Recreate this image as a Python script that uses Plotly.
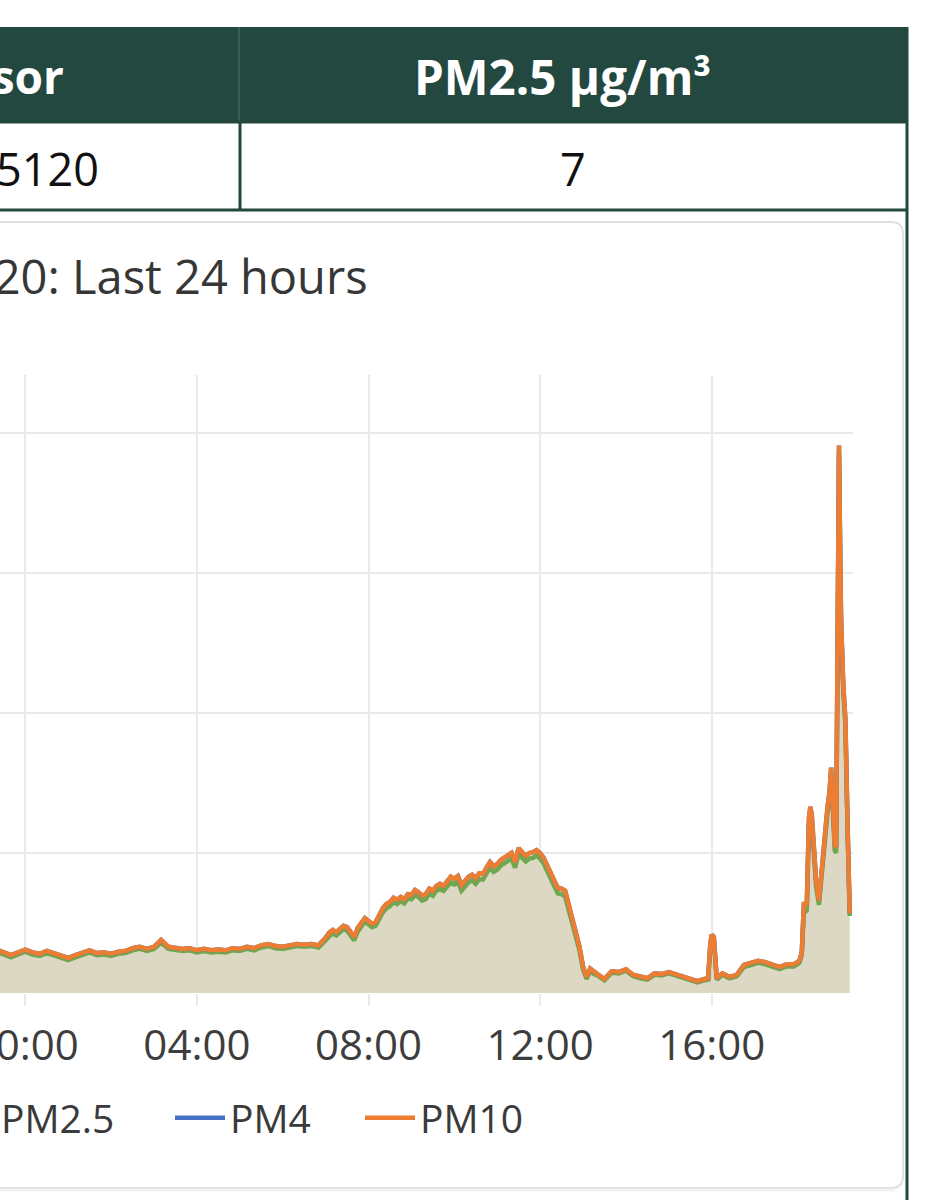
import pandas as pd
import plotly.graph_objects as go

# ---------------- data ----------------
# minutes relative to 00:00 of the chart's second day
minutes = [
    -40, -30, -20, -10, 0, 10, 20, 30, 40, 50, 60, 70, 80, 90, 100, 110, 120, 130, 140, 150,
    160, 170, 180, 190, 200, 210, 220, 230, 240, 250, 260, 270, 280, 290, 300, 310, 320, 330,
    340, 350, 360, 370, 380, 390, 400,
    410, 415, 420, 425, 430, 435, 440, 445, 450, 455, 460, 465, 470, 475, 480, 485, 490, 495,
    500, 505, 510, 515, 520, 525, 530, 535, 540, 545, 550, 555, 560, 565, 570, 575, 580, 585,
    590, 595, 600, 605, 610, 615, 620, 625, 630, 635, 640, 645, 650, 655, 660, 665, 670, 675,
    680, 685, 690, 695, 700, 705, 710, 715, 720, 725, 730, 735, 740, 745, 750, 755, 760, 765,
    770, 775, 780, 785, 790, 795, 800,
    810, 820, 830, 840, 850, 860, 870, 880, 890, 900, 910, 920, 930, 940, 950, 955, 958, 960,
    963, 965, 967, 975, 985, 995, 1005, 1015, 1025, 1035, 1045, 1055, 1065, 1075, 1080, 1083,
    1086, 1089, 1091, 1093, 1096, 1098, 1100, 1103, 1106, 1110, 1113, 1116, 1119, 1122, 1125,
    1127, 1129, 1132, 1134, 1136, 1138, 1140, 1141, 1144, 1147, 1150, 1153,
]

pm10 = [
    3.1, 2.9, 2.7, 2.9, 3.1, 2.9, 2.8, 3.0, 2.85, 2.65, 2.5, 2.7, 2.85, 3.05, 2.85, 2.9, 2.8, 2.95, 3.0, 3.2,
    3.3, 3.15, 3.3, 3.8, 3.3, 3.2, 3.15, 3.2, 3.05, 3.15, 3.05, 3.1, 3.05, 3.2, 3.15, 3.3, 3.2, 3.4,
    3.5, 3.35, 3.3, 3.4, 3.5, 3.45, 3.5,
    3.4, 3.65, 3.95, 4.3, 4.5, 4.35, 4.55, 4.8, 4.7, 4.3, 4.0, 4.65, 5.05, 5.35, 5.15, 4.95, 5.05, 5.65,
    6.05, 6.35, 6.5, 6.8, 6.65, 6.85, 6.7, 7.05, 7.0, 7.35, 7.2, 6.95, 7.05, 7.45, 7.3, 7.65, 7.8, 7.65,
    8.0, 8.3, 8.15, 8.35, 7.7, 8.05, 8.3, 8.45, 8.2, 8.55, 8.5, 8.95, 9.35, 9.05, 9.2, 9.5, 9.65, 9.85,
    10.0, 9.35, 10.35, 10.05, 9.8, 10.0, 10.05, 10.2, 10.0, 9.65, 9.05, 8.5, 8.0, 7.5, 7.45, 7.3, 6.3, 5.2,
    4.3, 3.3, 1.9, 1.15, 1.75, 1.5, 1.35,
    1.0, 1.55, 1.5, 1.7, 1.3, 1.15, 1.05, 1.4, 1.35, 1.5, 1.35, 1.2, 1.05, 0.85, 1.0, 1.05, 3.5, 4.15,
    4.0, 2.5, 1.05, 1.4, 1.15, 1.3, 2.0, 2.15, 2.3, 2.2, 2.05, 1.85, 2.05, 2.05, 2.2, 2.35,
    2.9, 6.5, 6.3, 6.4, 12.5, 13.3, 12.7, 10.2, 8.0, 6.6, 8.5, 10.3, 11.5, 13.3, 14.5,
    16.1, 14.0, 10.6, 10.4, 25.0, 39.1, 30.0, 26.5, 22.0, 19.5, 12.0, 5.7,
]

pm25 = [
    2.95, 2.75, 2.55, 2.75, 2.95, 2.75, 2.65, 2.85, 2.7, 2.5, 2.35, 2.55, 2.7, 2.9, 2.7, 2.75, 2.65, 2.8, 2.85, 3.05,
    3.15, 3.0, 3.15, 3.6, 3.15, 3.05, 3.0, 3.05, 2.9, 3.0, 2.9, 2.95, 2.9, 3.05, 3.0, 3.15, 3.05, 3.25,
    3.35, 3.2, 3.15, 3.25, 3.35, 3.3, 3.35,
    3.25, 3.45, 3.75, 4.05, 4.25, 4.1, 4.3, 4.55, 4.45, 4.05, 3.75, 4.4, 4.8, 5.1, 4.9, 4.7, 4.8, 5.35,
    5.75, 6.05, 6.2, 6.5, 6.35, 6.55, 6.4, 6.75, 6.7, 7.0, 6.85, 6.6, 6.7, 7.1, 6.95, 7.3, 7.45, 7.3,
    7.6, 7.9, 7.75, 7.95, 7.3, 7.65, 7.9, 8.05, 7.8, 8.15, 8.1, 8.55, 8.95, 8.65, 8.8, 9.1, 9.25, 9.45,
    9.6, 8.95, 9.95, 9.65, 9.4, 9.6, 9.65, 9.8, 9.6, 9.25, 8.65, 8.1, 7.6, 7.1, 7.05, 6.9, 5.95, 4.9,
    4.0, 3.05, 1.7, 1.0, 1.6, 1.35, 1.25,
    0.9, 1.45, 1.4, 1.6, 1.2, 1.05, 0.95, 1.3, 1.25, 1.4, 1.25, 1.1, 0.95, 0.75, 0.9, 0.95, 3.2, 3.9,
    3.75, 2.3, 0.95, 1.3, 1.05, 1.2, 1.85, 2.0, 2.15, 2.05, 1.9, 1.7, 1.9, 1.9, 2.05, 2.2,
    2.75, 6.0, 5.8, 5.9, 12.0, 12.8, 12.2, 9.8, 7.6, 6.3, 8.1, 9.9, 11.1, 12.9, 14.1,
    15.7, 13.6, 10.2, 10.0, 24.5, 38.5, 29.5, 26.0, 21.5, 19.0, 11.6, 5.5,
]

# PM4 reads the same as PM10 in the picture (hidden beneath it)
pm4 = list(pm10)

tick_labels = ["00:00", "04:00", "08:00", "12:00", "16:00"]
tick_minutes = [0, 240, 480, 720, 960]

title_text = "5120: Last 24 hours"
table_header = ["Sensor", "PM2.5 µg/m³"]
table_row = ["5120", "7"]

# ---------------- helpers ----------------
W, H = 946, 1200
base = pd.Timestamp("2024-01-02 00:00")
times = [base + pd.Timedelta(minutes=m) for m in minutes]
tickvals = [base + pd.Timedelta(minutes=m) for m in tick_minutes]


def px(x):
    return x / W


def py(y):
    return 1 - y / H


FONT = "Open Sans, Liberation Sans, sans-serif"
DARK = "#22483f"
GRID = "#e9e9e9"
TXT = "#3a3a3a"

fig = go.Figure()

# area fill under the lines
fig.add_trace(go.Scatter(
    x=times, y=pm10, mode="lines", line=dict(width=0, color="#dcd8c4"),
    fill="tozeroy", fillcolor="#dcd8c4", showlegend=False, hoverinfo="skip",
))
fig.add_trace(go.Scatter(x=times, y=pm25, mode="lines", name="PM2.5", legend="legend",
                         line=dict(color="#70a850", width=4.5)))
fig.add_trace(go.Scatter(x=times, y=pm4, mode="lines", name="PM4", legend="legend2",
                         line=dict(color="#4472c4", width=4.5)))
fig.add_trace(go.Scatter(x=times, y=pm10, mode="lines", name="PM10", legend="legend3",
                         line=dict(color="#ed7d31", width=4.5)))

x_left = base + pd.Timedelta(minutes=-35.4)
x_right = base + pd.Timedelta(minutes=1157.6)

shapes = []
# table header background
shapes.append(dict(type="rect", xref="paper", yref="paper", x0=px(-20), x1=px(907),
                   y0=py(121), y1=py(27), fillcolor=DARK, line=dict(width=0), layer="above"))
# header column divider (slightly lighter)
shapes.append(dict(type="line", xref="paper", yref="paper", x0=px(239), x1=px(239),
                   y0=py(121), y1=py(27), line=dict(color="#36605a", width=2)))
# row borders
shapes.append(dict(type="line", xref="paper", yref="paper", x0=px(-20), x1=px(907),
                   y0=py(122), y1=py(122), line=dict(color=DARK, width=3)))
shapes.append(dict(type="line", xref="paper", yref="paper", x0=px(-20), x1=px(907),
                   y0=py(210), y1=py(210), line=dict(color=DARK, width=3)))
shapes.append(dict(type="line", xref="paper", yref="paper", x0=px(240), x1=px(240),
                   y0=py(211), y1=py(121), line=dict(color=DARK, width=3)))
# outer right border
shapes.append(dict(type="line", xref="paper", yref="paper", x0=px(907), x1=px(907),
                   y0=py(1205), y1=py(27), line=dict(color=DARK, width=3)))
# chart card with rounded corners
r = 12
x0c, x1c, y0c, y1c = -20, 903, 222, 1188


def P(x, y):
    return f"{px(x)},{py(y)}"


card = (f"M {P(x0c, y0c)} L {P(x1c - r, y0c)} Q {P(x1c, y0c)} {P(x1c, y0c + r)} "
        f"L {P(x1c, y1c - r)} Q {P(x1c, y1c)} {P(x1c - r, y1c)} L {P(x0c, y1c)}")
shapes.append(dict(type="path", xref="paper", yref="paper", path=card,
                   line=dict(color="#e0e0e0", width=2)))
shapes.append(dict(type="line", xref="paper", yref="paper", x0=px(-20), x1=px(895),
                   y0=py(1190), y1=py(1190), line=dict(color="#f0f0f0", width=3)))

annotations = [
    dict(text=table_header[0], x=px(66), y=py(76), xanchor="right", yanchor="middle",
         font=dict(family=FONT, size=46, color="white", weight="bold")),
    dict(text=table_header[1], x=px(562), y=py(76), xanchor="center", yanchor="middle",
         font=dict(family=FONT, size=47.5, color="white", weight="bold")),
    dict(text=table_row[0], x=px(101), y=py(168), xanchor="right", yanchor="middle",
         font=dict(family=FONT, size=45, color="#111111")),
    dict(text=table_row[1], x=px(573), y=py(168), xanchor="center", yanchor="middle",
         font=dict(family=FONT, size=45, color="#111111")),
    dict(text=title_text, x=px(370), y=py(276), xanchor="right", yanchor="middle",
         font=dict(family=FONT, size=47, color="#363636")),
]
for a in annotations:
    a.update(xref="paper", yref="paper", showarrow=False)

leg_common = dict(orientation="h", y=py(1118), xanchor="left", yanchor="middle",
                  font=dict(family=FONT, size=39, color=TXT), itemwidth=50,
                  bgcolor="rgba(0,0,0,0)")

fig.update_layout(
    width=W, height=H,
    margin=dict(l=0, r=0, t=0, b=0, autoexpand=False),
    paper_bgcolor="white", plot_bgcolor="white",
    font=dict(family=FONT, color=TXT),
    shapes=shapes, annotations=annotations,
    showlegend=True,
    legend=dict(x=px(-59), **leg_common),
    legend2=dict(x=px(170), **leg_common),
    legend3=dict(x=px(360), **leg_common),
    xaxis=dict(
        domain=[0, px(853)], range=[x_left, x_right], type="date",
        tickvals=tickvals, ticktext=tick_labels, ticklabeloverflow="allow",
        showgrid=True, gridcolor=GRID, gridwidth=2,
        ticks="outside", ticklen=12, tickwidth=2, tickcolor=GRID,
        ticklabelstandoff=4,
        tickfont=dict(family=FONT, size=42, color="#3d3d3d"),
        zeroline=False, showline=False, fixedrange=True,
    ),
    yaxis=dict(
        domain=[py(993), py(375)], range=[0, 44.14], dtick=10,
        showgrid=True, gridcolor=GRID, gridwidth=2,
        showticklabels=False, zeroline=False, showline=False, fixedrange=True,
    ),
)

fig.write_html(
    "out.html",
    config={"displayModeBar": False},
    post_script="document.body.style.margin='0';document.body.style.padding='0';",
)
